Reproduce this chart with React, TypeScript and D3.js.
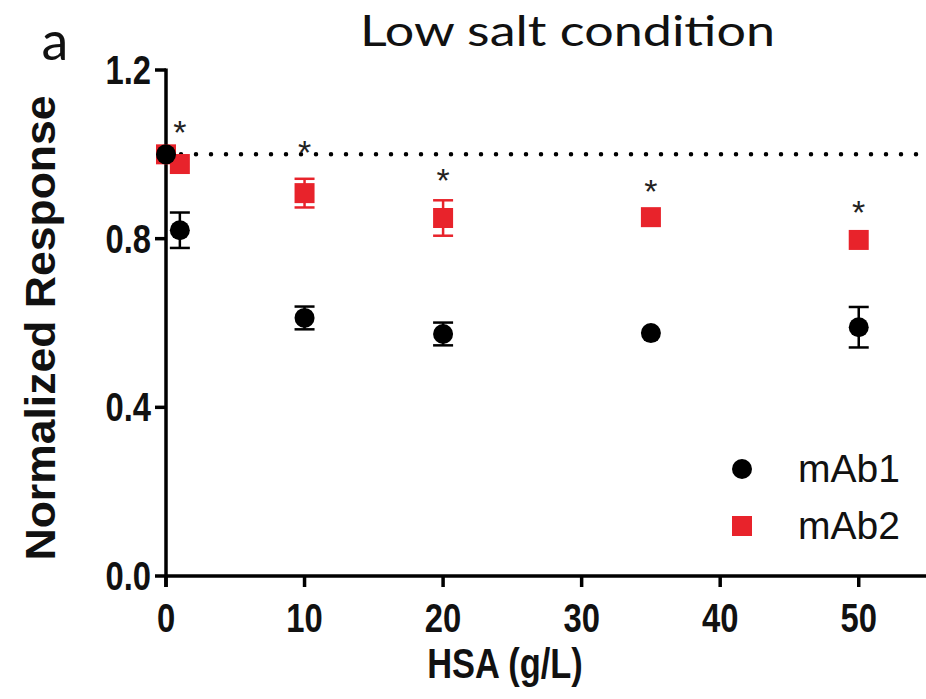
import React from "react";
import * as d3 from "d3";

const hsa = [0, 1, 10, 20, 35, 50];
const mAb1Mean = [1.0, 0.82, 0.612, 0.574, 0.576, 0.59];
const mAb1Err = [0, 0.042, 0.027, 0.027, 0, 0.048];
const mAb2Mean = [1.0, 0.977, 0.908, 0.849, 0.851, 0.797];
const mAb2Err = [0, 0, 0.034, 0.042, 0, 0];
const sigX = [1, 10, 20, 35, 50];
const sigY = [1.07, 1.022, 0.955, 0.93, 0.88];
const xTicks = [0, 10, 20, 30, 40, 50];
const yTicks = [0, 0.4, 0.8, 1.2];
const refLine = 1.0;
const seriesNames = ["mAb1", "mAb2"];

const W = 926;
const H = 699;
const RED = "#e8232b";
const NARROW = 0.82;

export default function App() {
  const x = d3.scaleLinear().domain([0, 55]).range([166, 928]);
  const y = d3.scaleLinear().domain([0, 1.2]).range([576, 70]);
  const boldFont = "'Liberation Sans', Arial, Helvetica, sans-serif";

  const errBar = (xv: number, m: number, e: number, color: string, key: string) => {
    if (!e) return null;
    const cx = x(xv);
    const y1 = y(m + e);
    const y2 = y(m - e);
    return (
      <g key={key} stroke={color} strokeWidth={2.5}>
        <line x1={cx} x2={cx} y1={y1} y2={y2} />
        <line x1={cx - 10} x2={cx + 10} y1={y1} y2={y1} />
        <line x1={cx - 10} x2={cx + 10} y1={y2} y2={y2} />
      </g>
    );
  };

  return (
    <svg
      width={W}
      height={H}
      style={{ position: "absolute", left: 0, top: 0, background: "#fff" }}
      fontFamily={boldFont}
    >
      <rect x={0} y={0} width={W} height={H} fill="#fff" />
      {/* title */}
      <text
        x={360}
        y={46}
        fontFamily="Lato, 'Open Sans', sans-serif"
        fontWeight={400}
        fontSize={42}
        textLength={415}
        lengthAdjust="spacingAndGlyphs"
        fill="#111"
      >
        Low salt condition
      </text>
      <text
        x={55}
        y={60}
        textAnchor="middle"
        fontFamily="Lato, 'Open Sans', sans-serif"
        fontWeight={400}
        fontSize={54}
        fill="#111"
      >
        a
      </text>

      {/* reference dotted line */}
      <line
        x1={x(0)}
        x2={x(55)}
        y1={y(refLine)}
        y2={y(refLine)}
        stroke="#000"
        strokeWidth={4.5}
        strokeLinecap="round"
        strokeDasharray="0 15"
      />

      {/* axes */}
      <g stroke="#000" strokeWidth={3.5}>
        <line x1={x(0)} x2={x(0)} y1={y(1.2) - 1.5} y2={y(0) + 11} />
        <line x1={x(0)} x2={x(55)} y1={y(0)} y2={y(0)} />
        {yTicks.map((t) => (
          <line key={"yt" + t} x1={x(0) - 11} x2={x(0)} y1={y(t)} y2={y(t)} />
        ))}
        {xTicks.map((t) => (
          <line key={"xt" + t} x1={x(t)} x2={x(t)} y1={y(0)} y2={y(0) + 11} />
        ))}
      </g>
      {yTicks.map((t) => (
        <text
          key={"yl" + t}
          transform={`translate(151,${y(t) + 14}) scale(${NARROW},1)`}
          textAnchor="end"
          fontWeight={700}
          fontSize={40}
          fill="#111"
        >
          {d3.format(".1f")(t)}
        </text>
      ))}
      {xTicks.map((t) => (
        <text
          key={"xl" + t}
          transform={`translate(${x(t)},632) scale(${NARROW},1)`}
          textAnchor="middle"
          fontWeight={700}
          fontSize={40}
          fill="#111"
        >
          {t}
        </text>
      ))}
      <text
        transform={`translate(505,678) scale(${NARROW},1)`}
        textAnchor="middle"
        fontWeight={700}
        fontSize={42}
        fill="#111"
      >
        HSA (g/L)
      </text>
      <text
        transform={`translate(55,328) rotate(-90)`}
        textAnchor="middle"
        fontWeight={700}
        fontSize={43}
        textLength={465}
        lengthAdjust="spacingAndGlyphs"
        fill="#111"
      >
        Normalized Response
      </text>

      {/* mAb2 */}
      {hsa.map((h, i) => errBar(h, mAb2Mean[i], mAb2Err[i], RED, "e2" + i))}
      {hsa.map((h, i) => (
        <rect
          key={"s2" + i}
          x={x(h) - 10}
          y={y(mAb2Mean[i]) - 10}
          width={20}
          height={20}
          fill={RED}
        />
      ))}
      {/* mAb1 */}
      {hsa.map((h, i) => errBar(h, mAb1Mean[i], mAb1Err[i], "#000", "e1" + i))}
      {hsa.map((h, i) => (
        <circle key={"c1" + i} cx={x(h)} cy={y(mAb1Mean[i])} r={10} fill="#000" />
      ))}

      {/* significance */}
      {sigX.map((s, i) => (
        <text
          key={"sig" + i}
          x={x(s)}
          y={y(sigY[i]) + 19}
          textAnchor="middle"
          fontSize={34}
          fill="#222"
        >
          *
        </text>
      ))}

      {/* legend */}
      <circle cx={742} cy={469} r={10} fill="#000" />
      <text x={798} y={482} fontSize={39} fill="#111">
        {seriesNames[0]}
      </text>
      <rect x={732} y={516} width={20} height={20} fill={RED} />
      <text x={798} y={539} fontSize={39} fill="#111">
        {seriesNames[1]}
      </text>
    </svg>
  );
}
